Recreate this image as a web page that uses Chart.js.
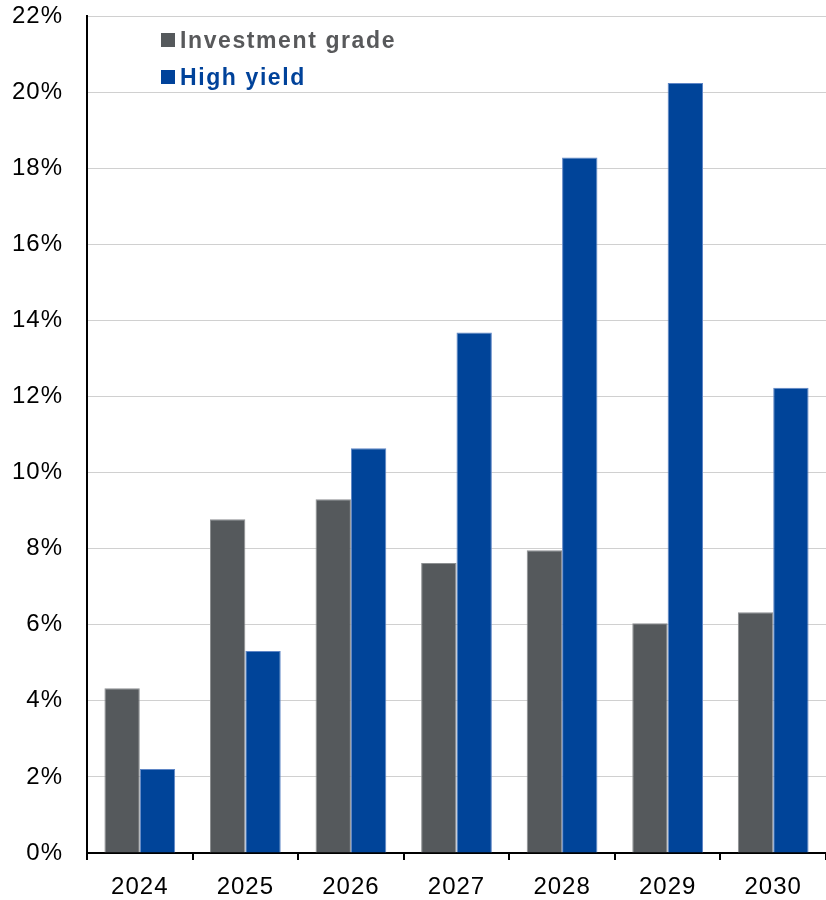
<!DOCTYPE html>
<html>
<head>
<meta charset="utf-8">
<script src="https://cdn.jsdelivr.net/npm/chart.js@4"></script>
<style>
  html, body { margin: 0; padding: 0; background: #fff; }
  #wrap { position: relative; width: 826px; height: 900px; }
  .leg { position: absolute; font-family: "Liberation Sans", Arial, sans-serif; font-weight: bold;
         font-size: 23px; letter-spacing: 1.6px; line-height: 23px; white-space: nowrap; }
  .leg span { display: inline-block; width: 14px; height: 14px; margin-right: 5px; vertical-align: 1px; letter-spacing: 0; }
</style>
</head>
<body>
<div id="wrap">
  <canvas id="bondChart" width="826" height="900"></canvas>
  <div class="leg" style="left:161px; top:29px; color:#58595b;"><span style="background:#55595c"></span>Investment grade</div>
  <div class="leg" style="left:161px; top:66px; color:#00429a;"><span style="background:#00429a"></span>High yield</div>
</div>
<script>
const years = ["2024", "2025", "2026", "2027", "2028", "2029", "2030"];
const investmentGrade = [4.33, 8.77, 9.30, 7.62, 7.96, 6.04, 6.33];
const highYield = [2.21, 5.31, 10.64, 13.68, 18.28, 20.24, 12.23];
const yTicks = [0, 2, 4, 6, 8, 10, 12, 14, 16, 18, 20, 22];

const spacing = {
  id: "spacing",
  beforeDraw(chart) { chart.ctx.letterSpacing = "1px"; },
};

const ctx = document.getElementById("bondChart");
new Chart(ctx, {
  type: "bar",
  data: {
    labels: years,
    datasets: [
      {
        label: "Investment grade",
        data: investmentGrade,
        backgroundColor: "#55595c",
        borderColor: "#8c8f91",
        borderWidth: 1,
        borderSkipped: "bottom",
      },
      {
        label: "High yield",
        data: highYield,
        backgroundColor: "#004499",
        borderColor: "#5f86c6",
        borderWidth: 1,
        borderSkipped: "bottom",
      },
    ],
  },
  plugins: [spacing],
  options: {
    responsive: false,
    animation: false,
    layout: { padding: { top: 16, right: 0, left: 0, bottom: 0 } },
    datasets: { bar: { categoryPercentage: 0.67, barPercentage: 1.0 } },
    plugins: { legend: { display: false }, tooltip: { enabled: false } },
    scales: {
      x: {
        grid: { offset: true, drawOnChartArea: false, color: "#000", lineWidth: 2, tickLength: 7 },
        border: { color: "#000", width: 2 },
        ticks: { color: "#000", font: { family: "'Liberation Sans', Arial", size: 24 }, padding: 13 },
        afterFit: (s) => { s.height = 47; },
      },
      y: {
        min: 0,
        max: 22,
        afterBuildTicks: (s) => { s.ticks = yTicks.map((v) => ({ value: v })); },
        // ticks kept invisible, only to push the labels away from the axis
        grid: { color: "#d0d0d0", lineWidth: 1, drawTicks: true, tickLength: 24, tickColor: "rgba(0,0,0,0)" },
        border: { color: "#000", width: 2 },
        ticks: {
          color: "#000",
          font: { family: "'Liberation Sans', Arial", size: 24 },
          padding: 0,
          callback: (v) => v + "%",
        },
        afterFit: (s) => { s.width = 87; },
      },
    },
  },
});
</script>
</body>
</html>
